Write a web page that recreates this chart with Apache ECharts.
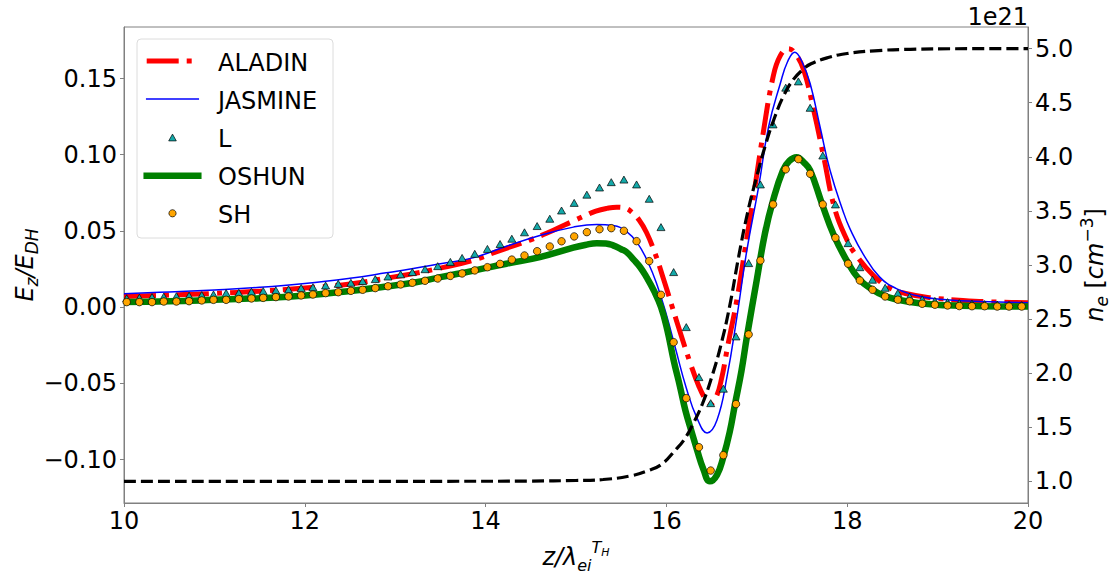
<!DOCTYPE html>
<html>
<head>
<meta charset="utf-8">
<script src="https://cdn.jsdelivr.net/npm/echarts@6/dist/echarts.min.js"></script>
<style>
  html, body { margin: 0; padding: 0; background: #fff; }
  #chart { width: 1111px; height: 575px; }
</style>
</head>
<body>
<div id="chart"></div>
<script>
// Electric field profiles E_z/E_DH from five codes and the density ramp n_e (1e21 cm^-3).

// Sample positions shared by the L and SH marker series
const zSample = [10.03, 10.17, 10.31, 10.44, 10.58, 10.72, 10.86, 10.99, 11.13, 11.27,
  11.41, 11.54, 11.68, 11.82, 11.96, 12.09, 12.23, 12.37, 12.51, 12.64,
  12.78, 12.92, 13.06, 13.19, 13.33, 13.47, 13.61, 13.74, 13.88, 14.02,
  14.16, 14.29, 14.43, 14.57, 14.71, 14.84, 14.98, 15.12, 15.26, 15.39,
  15.53, 15.67, 15.81, 15.94, 16.08, 16.22, 16.36, 16.49, 16.63, 16.77,
  16.91, 17.04, 17.18, 17.32, 17.46, 17.59, 17.73, 17.87, 18.01, 18.14,
  18.28, 18.42, 18.56, 18.69, 18.83, 18.97, 19.11, 19.24, 19.38, 19.52,
  19.66, 19.79, 19.93];

const shValues = [0.0033, 0.0033, 0.0033, 0.0037, 0.0037, 0.0039, 0.0044, 0.0048, 0.0048, 0.0053,
  0.0057, 0.0061, 0.0066, 0.0070, 0.0077, 0.0083, 0.0092, 0.0098, 0.0107, 0.0114,
  0.0125, 0.0137, 0.0149, 0.0160, 0.0173, 0.0188, 0.0205, 0.0221, 0.0241, 0.0262,
  0.0284, 0.0312, 0.0339, 0.0367, 0.0398, 0.0432, 0.0464, 0.0492, 0.0511, 0.0518,
  0.0501, 0.0433, 0.0302, 0.0081, -0.0230, -0.0597, -0.0919, -0.1072, -0.0971, -0.0636,
  -0.0179, 0.0306, 0.0674, 0.0904, 0.0971, 0.0875, 0.0674, 0.0455, 0.0285, 0.0175,
  0.0114, 0.0070, 0.0049, 0.0039, 0.0022, 0.0016, 0.0011, 0.0007, 0.0006, 0.0006,
  0.0004, 0.0004, 0.0004];

const lValues = [0.0058, 0.0062, 0.0066, 0.0069, 0.0072, 0.0075, 0.0079, 0.0083, 0.0092, 0.0094,
  0.0101, 0.0105, 0.0110, 0.0116, 0.0125, 0.0131, 0.0142, 0.0153, 0.0160, 0.0171,
  0.0184, 0.0201, 0.0215, 0.0230, 0.0249, 0.0269, 0.0297, 0.0323, 0.0350, 0.0382,
  0.0414, 0.0449, 0.0491, 0.0532, 0.0580, 0.0634, 0.0684, 0.0738, 0.0785, 0.0820,
  0.0837, 0.0805, 0.0711, 0.0525, 0.0230, -0.0131, -0.0459, -0.0630, -0.0535, -0.0192,
  0.0289, 0.0805, 0.1199, 0.1440, 0.1481, 0.1308, 0.0995, 0.0674, 0.0420, 0.0262,
  0.0180, 0.0127, 0.0092, 0.0068, 0.0052, 0.0041, 0.0033, 0.0027, 0.0023, 0.0020,
  0.0017, 0.0015, 0.0014];

// ALADIN curve
const zAladin = [10.0, 10.5, 11.0, 11.5, 12.0, 12.5, 12.9, 13.2, 13.45, 13.85,
  14.14, 14.49, 14.75, 14.97, 15.1, 15.22, 15.34, 15.45, 15.54, 15.62,
  15.7, 15.78, 15.87, 15.96, 16.06, 16.16, 16.26, 16.36, 16.44, 16.49,
  16.55, 16.61, 16.68, 16.78, 16.87, 16.98, 17.07, 17.18, 17.26, 17.35,
  17.43, 17.52, 17.63, 17.74, 17.86, 17.99, 18.1, 18.29, 18.47, 18.66,
  18.92, 19.28, 19.65, 20.0];
const aladin = [0.0070, 0.0079, 0.0090, 0.0105, 0.0125, 0.0152, 0.0190, 0.0220, 0.0250, 0.0306,
  0.0368, 0.0440, 0.0505, 0.0565, 0.0600, 0.0630, 0.0648, 0.0656, 0.0650, 0.0622,
  0.0570, 0.0490, 0.0360, 0.0200, 0.0010, -0.0180, -0.0360, -0.0520, -0.0610, -0.0633,
  -0.0590, -0.0470, -0.0250, 0.0050, 0.0380, 0.0790, 0.1140, 0.1510, 0.1650, 0.1696,
  0.1660, 0.1554, 0.1290, 0.0986, 0.0650, 0.0450, 0.0340, 0.0208, 0.0127, 0.0088,
  0.0062, 0.0044, 0.0033, 0.0029];

// JASMINE curve
const zJasmine = [10.0, 10.5, 11.0, 11.5, 12.0, 12.5, 12.9, 13.2, 13.5, 13.87,
  14.23, 14.6, 14.97, 15.23, 15.41, 15.56, 15.68, 15.8, 15.9, 16.0,
  16.1, 16.22, 16.34, 16.45, 16.56, 16.67, 16.78, 16.89, 17.02, 17.13,
  17.26, 17.34, 17.42, 17.5, 17.59, 17.7, 17.81, 17.96, 18.03, 18.18,
  18.36, 18.55, 18.81, 19.1, 19.47, 20.0];
const jasmine = [0.0088, 0.0100, 0.0113, 0.0130, 0.0155, 0.0190, 0.0225, 0.0253, 0.0285, 0.0325,
  0.0400, 0.0470, 0.0525, 0.0543, 0.0536, 0.0495, 0.0420, 0.0290, 0.0140, -0.0050,
  -0.0270, -0.0530, -0.0730, -0.0825, -0.0740, -0.0458, -0.0064, 0.0373, 0.0789, 0.1182,
  0.1467, 0.1610, 0.1673, 0.1610, 0.1467, 0.1182, 0.0898, 0.0620, 0.0515, 0.0345,
  0.0197, 0.0120, 0.0070, 0.0049, 0.0037, 0.0029];

// OSHUN curve
const zOshun = [10.0, 10.5, 11.0, 11.5, 12.0, 12.5, 12.9, 13.2, 13.5, 13.87,
  14.23, 14.6, 14.97, 15.1, 15.23, 15.33, 15.41, 15.5, 15.56, 15.64,
  15.71, 15.78, 15.86, 15.94, 16.01, 16.08, 16.15, 16.21, 16.28, 16.34,
  16.41, 16.48, 16.56, 16.63, 16.7, 16.76, 16.83, 16.89, 17.0, 17.09,
  17.18, 17.29, 17.36, 17.44, 17.52, 17.59, 17.72, 17.85, 18.0, 18.13,
  18.27, 18.41, 18.55, 18.8, 19.1, 19.5, 20.0];
const oshun = [0.0033, 0.0038, 0.0048, 0.0059, 0.0076, 0.0106, 0.0136, 0.0160, 0.0197, 0.0240,
  0.0285, 0.0328, 0.0390, 0.0408, 0.0420, 0.0418, 0.0405, 0.0380, 0.0361, 0.0310,
  0.0262, 0.0197, 0.0110, 0.0001, -0.0150, -0.0348, -0.0520, -0.0677, -0.0820, -0.0939,
  -0.1065, -0.1143, -0.1100, -0.0983, -0.0820, -0.0633, -0.0420, -0.0196, 0.0180, 0.0483,
  0.0701, 0.0898, 0.0960, 0.0984, 0.0950, 0.0898, 0.0680, 0.0475, 0.0300, 0.0185,
  0.0118, 0.0074, 0.0050, 0.0025, 0.0012, 0.0006, 0.0004];

// Electron density n_e in units of 1e21 cm^-3 (right axis)
const zDensity = [10.0, 14.0, 14.5, 15.0, 15.3, 15.6, 15.8, 15.95, 16.1, 16.2,
  16.3, 16.4, 16.5, 16.6, 16.7, 16.8, 16.9, 17.0, 17.1, 17.2,
  17.3, 17.4, 17.5, 17.6, 17.8, 18.0, 18.3, 18.7, 19.2, 20.0];
const density = [1.000, 1.001, 1.003, 1.008, 1.017, 1.050, 1.100, 1.160, 1.290, 1.390,
  1.540, 1.720, 1.960, 2.250, 2.620, 3.080, 3.490, 3.820, 4.120, 4.370,
  4.570, 4.710, 4.800, 4.860, 4.920, 4.955, 4.980, 4.994, 4.999, 5.000];

// Tick labels
const fieldTicks = [-0.10, -0.05, 0.00, 0.05, 0.10, 0.15];
const densityTicks = [1.0, 1.5, 2.0, 2.5, 3.0, 3.5, 4.0, 4.5, 5.0];
const seriesNames = ['ALADIN', 'JASMINE', 'L', 'OSHUN', 'SH'];

const FONT = '"DejaVu Sans", "Liberation Sans", sans-serif';
const AXIS_GRAY = '#808080';
const TEAL = '#14a9a9';
const ORANGE = '#ffa500';

function pairs(xs, ys) { return xs.map((x, i) => [x, ys[i]]); }
function signed(v, digits) {
  const s = Math.abs(v).toFixed(digits);
  return (v < -1e-9 ? '\u2212' : '') + s;
}

const chart = echarts.init(document.getElementById('chart'), null, { renderer: 'svg' });

const italic = { fontFamily: FONT, fontStyle: 'italic', fontSize: 24, color: '#000' };
const upright = { fontFamily: FONT, fontSize: 24, color: '#000' };

// Legend drawn as graphic elements laid out like the plotting library legend
const legendX = 137, legendY = 39;
const rowY = [61, 99, 137.7, 175.7, 213.3];
const handleX1 = 146.7, handleX2 = 198.3, handleMid = 172.5;
const legendGraphics = [
  { type: 'rect', z: 100, shape: { x: legendX, y: legendY, width: 196, height: 199, r: 4 },
    style: { fill: 'rgba(255,255,255,0.85)', stroke: '#dcdcdc', lineWidth: 1 } },
  { type: 'line', z: 101, shape: { x1: handleX1, y1: rowY[0], x2: handleX2, y2: rowY[0] },
    style: { stroke: '#ff0000', lineWidth: 5, lineDash: [32, 8, 5, 8], lineCap: 'butt' } },
  { type: 'line', z: 101, shape: { x1: handleX1, y1: rowY[1], x2: handleX2, y2: rowY[1] },
    style: { stroke: '#0000ff', lineWidth: 1.5, lineCap: 'square' } },
  { type: 'polygon', z: 101,
    shape: { points: [[handleMid, rowY[2] - 3.6], [handleMid - 3.8, rowY[2] + 3.2], [handleMid + 3.8, rowY[2] + 3.2]] },
    style: { fill: TEAL, stroke: '#000', lineWidth: 0.7 } },
  { type: 'line', z: 101, shape: { x1: handleX1, y1: rowY[3], x2: handleX2, y2: rowY[3] },
    style: { stroke: '#008000', lineWidth: 6.5, lineCap: 'square' } },
  { type: 'circle', z: 101, shape: { cx: handleMid, cy: rowY[4], r: 3.6 },
    style: { fill: ORANGE, stroke: '#000', lineWidth: 0.7 } }
];
seriesNames.forEach((name, i) => {
  legendGraphics.push({
    type: 'text', z: 101, x: 218, y: rowY[i] + 1.5,
    style: { text: name, font: '24px ' + FONT, fill: '#000',
      align: 'left', verticalAlign: 'middle', textAlign: 'left', textVerticalAlign: 'middle' }
  });
});

const lineSmooth = 0.45;

const option = {
  animation: false,
  backgroundColor: '#fff',
  grid: {
    left: 124, right: 83, top: 27, bottom: 72,
    containLabel: false, outerBoundsMode: 'none',
    show: true, borderColor: AXIS_GRAY, borderWidth: 1, backgroundColor: 'transparent'
  },
  xAxis: {
    type: 'value', min: 10, max: 20, interval: 2,
    name: '{it|z/\u03bb}{sub|ei}{sup|T}{ssub|H}',
    nameLocation: 'middle', nameGap: 36, nameMoveOverlap: false,
    nameTextStyle: {
      rich: {
        it: italic,
        sub: { fontFamily: FONT, fontStyle: 'italic', fontSize: 16, color: '#000', padding: [16, 0, 0, 0] },
        sup: { fontFamily: FONT, fontStyle: 'italic', fontSize: 16, color: '#000', padding: [0, 0, 20, 0] },
        ssub: { fontFamily: FONT, fontStyle: 'italic', fontSize: 11, color: '#000', padding: [0, 0, 9, 0] }
      }
    },
    axisLine: { show: true, onZero: false, lineStyle: { color: AXIS_GRAY, width: 1 } },
    axisTick: { show: true, length: 4, lineStyle: { color: AXIS_GRAY } },
    axisLabel: { fontFamily: FONT, fontSize: 24, color: '#000', margin: 6 },
    splitLine: { show: false }
  },
  yAxis: [
    {
      type: 'value', position: 'left', min: -0.1285, max: 0.1838,
      name: '{it|E}{sub|z}{it|/E}{sub|DH}',
      nameLocation: 'middle', nameRotate: 90, nameGap: 84, nameMoveOverlap: false,
      nameTextStyle: {
        rich: {
          it: italic,
          sub: { fontFamily: FONT, fontStyle: 'italic', fontSize: 17, color: '#000', padding: [14, 0, 0, 0] }
        }
      },
      axisLine: { show: true, onZero: false, lineStyle: { color: AXIS_GRAY, width: 1 } },
      axisTick: { show: true, length: 4, customValues: fieldTicks, lineStyle: { color: AXIS_GRAY } },
      axisLabel: {
        fontFamily: FONT, fontSize: 24, color: '#000', margin: 7,
        customValues: fieldTicks, formatter: v => signed(v, 2)
      },
      splitLine: { show: false }
    },
    {
      type: 'value', position: 'right', min: 0.8, max: 5.2,
      name: '{it|n}{sub|e}{rm| [}{it|cm}{sup|\u22123}{rm|]}',
      nameLocation: 'middle', nameRotate: 90, nameGap: 50, nameMoveOverlap: false,
      nameTextStyle: {
        rich: {
          it: italic,
          rm: upright,
          sub: { fontFamily: FONT, fontStyle: 'italic', fontSize: 17, color: '#000', padding: [14, 0, 0, 0] },
          sup: { fontFamily: FONT, fontSize: 17, color: '#000', padding: [0, 0, 16, 0] }
        }
      },
      axisLine: { show: true, onZero: false, lineStyle: { color: AXIS_GRAY, width: 1 } },
      axisTick: { show: true, length: 4, customValues: densityTicks, lineStyle: { color: AXIS_GRAY } },
      axisLabel: {
        fontFamily: FONT, fontSize: 24, color: '#000', margin: 7,
        customValues: densityTicks, formatter: v => v.toFixed(1)
      },
      splitLine: { show: false }
    }
  ],
  series: [
    {
      name: 'ALADIN', type: 'line', yAxisIndex: 0, z: 2,
      data: pairs(zAladin, aladin), showSymbol: false, symbol: 'none',
      smooth: lineSmooth,
      lineStyle: { color: '#ff0000', width: 5, type: [32, 8, 5, 8], cap: 'butt', join: 'round' }
    },
    {
      name: 'JASMINE', type: 'line', yAxisIndex: 0, z: 3,
      data: pairs(zJasmine, jasmine), showSymbol: false, symbol: 'none',
      smooth: lineSmooth,
      lineStyle: { color: '#0000ff', width: 1.5, join: 'round' }
    },
    {
      name: 'L', type: 'scatter', yAxisIndex: 0, z: 4,
      data: pairs(zSample, lValues), symbol: 'triangle', symbolSize: [8, 7],
      itemStyle: { color: TEAL, borderColor: '#000', borderWidth: 0.7, opacity: 1 }
    },
    {
      name: 'OSHUN', type: 'line', yAxisIndex: 0, z: 5,
      data: pairs(zOshun, oshun), showSymbol: false, symbol: 'none',
      smooth: lineSmooth,
      lineStyle: { color: '#008000', width: 6.5, join: 'round' }
    },
    {
      name: 'SH', type: 'scatter', yAxisIndex: 0, z: 6,
      data: pairs(zSample, shValues), symbol: 'circle', symbolSize: 7.5,
      itemStyle: { color: ORANGE, borderColor: '#000', borderWidth: 0.7, opacity: 1 }
    },
    {
      name: 'n_e', type: 'line', yAxisIndex: 1, z: 7,
      data: pairs(zDensity, density), showSymbol: false, symbol: 'none',
      smooth: lineSmooth,
      lineStyle: { color: '#000', width: 3.2, type: [12, 5], cap: 'butt' }
    }
  ],
  graphic: [
    {
      type: 'text', z: 100, x: 1028, y: 17,
      style: { text: '1e21', font: '24px ' + FONT, fill: '#000',
        align: 'right', verticalAlign: 'middle', textAlign: 'right', textVerticalAlign: 'middle' }
    }
  ].concat(legendGraphics)
};

chart.setOption(option);
</script>
</body>
</html>
